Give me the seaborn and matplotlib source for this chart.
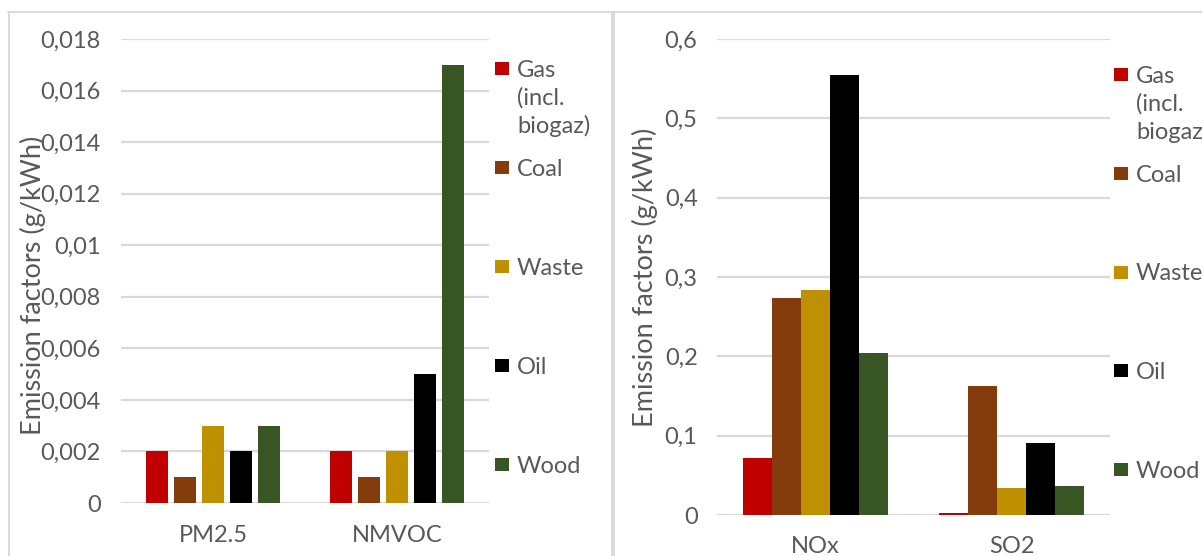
import numpy as np
import pandas as pd
import matplotlib
matplotlib.use("Agg")
import matplotlib.pyplot as plt
from matplotlib.patches import Rectangle
from matplotlib.lines import Line2D
from matplotlib.ticker import FuncFormatter, MultipleLocator
import seaborn as sns

# ---- data -------------------------------------------------------------
fuels = ["Gas\n(incl.\nbiogaz)", "Coal", "Waste", "Oil", "Wood"]
fuel_colors = ["#C00000", "#843C0C", "#BF9000", "#000000", "#375623"]

pollutants_left = ["PM2.5", "NMVOC"]
gas_left = [0.002, 0.002]
coal_left = [0.001, 0.001]
waste_left = [0.003, 0.002]
oil_left = [0.002, 0.005]
wood_left = [0.003, 0.017]

pollutants_right = ["NOx", "SO2"]
gas_right = [0.072, 0.002]
coal_right = [0.274, 0.163]
waste_right = [0.284, 0.034]
oil_right = [0.554, 0.091]
wood_right = [0.204, 0.037]

y_title = "Emission factors (g/kWh)"


def long_table(pollutants, *series):
    rows = []
    for fuel, values in zip(fuels, series):
        for pol, v in zip(pollutants, values):
            rows.append({"pollutant": pol, "fuel": fuel, "value": v})
    return pd.DataFrame(rows)


df_left = long_table(pollutants_left, gas_left, coal_left, waste_left, oil_left, wood_left)
df_right = long_table(pollutants_right, gas_right, coal_right, waste_right, oil_right, wood_right)

# ---- style ------------------------------------------------------------
sns.set_theme(style="white")
plt.rcParams["font.family"] = ["Lato", "DejaVu Sans"]
TXT = "#595959"
GRID = "#D9D9D9"

W, H = 1202, 556
fig = plt.figure(figsize=(W / 100, H / 100), dpi=100)


def px_rect(x0, y_top, x1, y_bottom):
    """Axes rectangle from pixel edges (y measured from top)."""
    return [x0 / W, (H - y_bottom) / H, (x1 - x0) / W, (y_bottom - y_top) / H]


def comma_fmt(v, _):
    s = "{:g}".format(round(v, 6))
    return s.replace(".", ",")


def style_axes(ax, ymax, step, ypad, xpad, label_xy):
    ax.set_ylim(0, ymax)
    ax.set_xlim(-0.5, 1.5)
    ax.yaxis.set_major_locator(MultipleLocator(step))
    ax.yaxis.set_major_formatter(FuncFormatter(comma_fmt))
    ax.yaxis.grid(True, color=GRID, linewidth=1.6)
    ax.xaxis.grid(False)
    ax.set_axisbelow(True)
    for s in ax.spines.values():
        s.set_visible(False)
    ax.tick_params(axis="y", length=0, pad=ypad, labelsize=17, labelcolor=TXT)
    ax.tick_params(axis="x", length=0, pad=xpad, labelsize=17, labelcolor=TXT)
    ax.set_xlabel("")
    ax.set_ylabel(y_title, fontsize=19.5, color=TXT)
    ax.yaxis.set_label_coords(*label_xy)
    ax.set_facecolor("none")


def draw_legend(x_box, x_text, base_first, step):
    for i, (name, col) in enumerate(zip(fuels, fuel_colors)):
        base = base_first + i * step
        fig.add_artist(Rectangle((x_box / W, (H - (base - 1)) / H), 14 / W, 13 / H,
                                 transform=fig.transFigure, facecolor=col,
                                 edgecolor="none"))
        fig.text(x_text / W, (H - (base - 16)) / H, name, fontsize=17, color=TXT,
                 ha="left", va="top", linespacing=1.34)


# ---- left panel -------------------------------------------------------
ax1 = fig.add_axes(px_rect(121, 39, 489, 503))
sns.barplot(data=df_left, x="pollutant", y="value", hue="fuel", hue_order=fuels,
            palette=fuel_colors, saturation=1, width=0.761, gap=0.18,
            linewidth=0, legend=False, ax=ax1)
style_axes(ax1, 0.018, 0.002, 14.4, 16, (-0.203, 0.47))
draw_legend(495, 517, 76, 99)

# ---- right panel ------------------------------------------------------
ax2 = fig.add_axes(px_rect(717, 39, 1110, 515))
sns.barplot(data=df_right, x="pollutant", y="value", hue="fuel", hue_order=fuels,
            palette=fuel_colors, saturation=1, width=0.738, gap=0,
            linewidth=0, legend=False, ax=ax2)
style_axes(ax2, 0.6, 0.1, 14, 15, (-0.15, 0.5))
draw_legend(1114, 1136, 82, 98.75)

# ---- chart frames -----------------------------------------------------
frame_kw = dict(color=GRID, linewidth=1.4, transform=fig.transFigure)
fig.add_artist(Line2D([8 / W, 1], [(H - 12) / H] * 2, **frame_kw))
fig.add_artist(Line2D([8.5 / W] * 2, [0, (H - 12) / H], **frame_kw))
fig.add_artist(Line2D([611.5 / W] * 2, [0, (H - 12) / H], **frame_kw))
fig.add_artist(Line2D([613.8 / W] * 2, [0, (H - 12) / H], **frame_kw))

fig.savefig("out.png", dpi=100, facecolor="white")
